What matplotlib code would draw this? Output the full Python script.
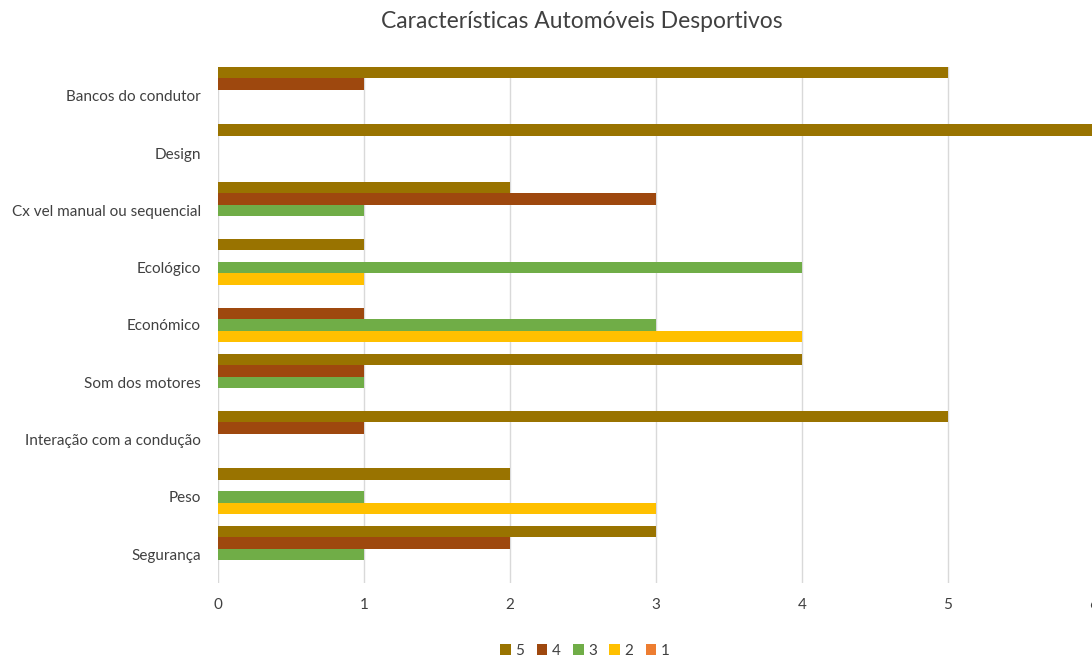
import matplotlib
matplotlib.use("Agg")
import matplotlib.pyplot as plt
import numpy as np

plt.rcParams['font.family'] = ['Lato', 'DejaVu Sans']

categories = [
    "Segurança",
    "Peso",
    "Interação com a condução",
    "Som dos motores",
    "Económico",
    "Ecológico",
    "Cx vel manual ou sequencial",
    "Design",
    "Bancos do condutor",
]

# Ratings per category, bottom to top as listed above
series_names = ["5", "4", "3", "2", "1"]
s5 = [3, 2, 5, 4, 0, 1, 2, 6, 5]
s4 = [2, 0, 1, 1, 1, 0, 3, 0, 1]
s3 = [1, 1, 0, 1, 3, 4, 1, 0, 0]
s2 = [0, 3, 0, 0, 4, 1, 0, 0, 0]
s1 = [0, 0, 0, 0, 0, 0, 0, 0, 0]
series_values = [s5, s4, s3, s2, s1]
colors = ["#997300", "#9E480E", "#70AD47", "#FFC000", "#ED7D31"]

W, H = 1092, 659
fig = plt.figure(figsize=(W / 100, H / 100), dpi=100)
ax = fig.add_axes([218 / W, 1 - 583 / H, (1094 - 218) / W, (583 - 67) / H])

y = np.arange(len(categories))
bar_h = 0.2
offsets = [0.4, 0.2, 0.0, -0.2, -0.4]
handles = []
for vals, name, col, off in zip(series_values, series_names, colors, offsets):
    b = ax.barh(y + off, vals, height=bar_h, color=col, label=name, zorder=3)
    handles.append(b)

ax.set_xlim(0, 6)
ax.set_ylim(-0.5, len(categories) - 0.5)
ax.set_xticks(range(0, 7))
ax.set_yticks(y)
ax.set_yticklabels(categories)
ax.tick_params(axis='both', length=0, labelsize=11, colors="#404040")
ax.tick_params(axis='y', pad=12.5)
ax.tick_params(axis='x', pad=11)
ax.grid(axis='x', color="#D9D9D9", linewidth=1, zorder=0)
for s in ax.spines.values():
    s.set_visible(False)

fig.text(582 / W, 1 - 22 / H, "Características Automóveis Desportivos",
         ha='center', va='center', fontsize=16.5, color="#404040")

leg = fig.legend(handles=handles, labels=series_names, loc='center',
                 bbox_to_anchor=(585 / W, 1 - 651 / H), ncol=5, frameon=False,
                 fontsize=11, handlelength=0.7, handleheight=0.7,
                 handletextpad=0.3, columnspacing=0.8, labelcolor="#404040")

fig.savefig("out.png", dpi=100, facecolor="white")
